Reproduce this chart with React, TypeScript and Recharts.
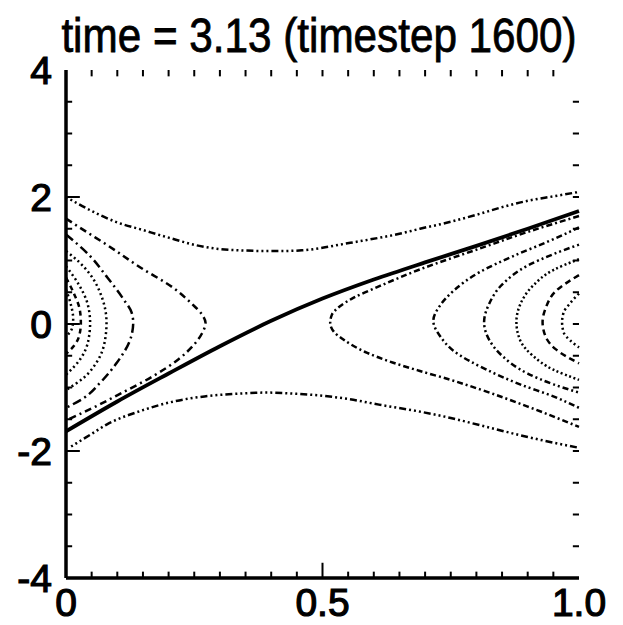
import React from "react";
import { LineChart, Line, XAxis, YAxis, ReferenceLine } from "recharts";

type P = { x: number; y: number };
const pts = (a: number[][]): P[] => a.map(([x, y]) => ({ x, y }));

const xTicks = [0, 0.5, 1];
const xTickLabels = ["0", "0.5", "1.0"];
const yTicks = [-4, -2, 0, 2, 4];
const yTickLabels = ["-4", "-2", "0", "2", "4"];
const xMinor = [0.05, 0.1, 0.15, 0.2, 0.25, 0.3, 0.35, 0.4, 0.45, 0.5, 0.55, 0.6, 0.65, 0.7, 0.75, 0.8, 0.85, 0.9, 0.95];
const yMinor = [-3.5, -3, -2.5, -2, -1.5, -1, -0.5, 0, 0.5, 1, 1.5, 2, 2.5, 3, 3.5];
const yMajorInner = [-2, 0, 2];
const title = "time = 3.13 (timestep 1600)";

// passing orbits
const topPassing = pts([[0,2.0],[0.05,1.78],[0.1,1.6],[0.15,1.48],[0.2,1.36],[0.26,1.23],[0.3,1.18],[0.34,1.16],[0.38,1.15],[0.42,1.15],[0.46,1.16],[0.5,1.2],[0.534,1.25],[0.57,1.3],[0.612,1.36],[0.65,1.42],[0.69,1.5],[0.74,1.59],[0.8,1.72],[0.85,1.84],[0.9,1.94],[0.95,2.01],[1.0,2.08]]);
const bottomPassing = pts([[0.01,-1.93],[0.05,-1.73],[0.08,-1.58],[0.145,-1.37],[0.21,-1.22],[0.27,-1.14],[0.33,-1.1],[0.39,-1.08],[0.45,-1.1],[0.5,-1.13],[0.55,-1.18],[0.61,-1.27],[0.69,-1.38],[0.75,-1.48],[0.81,-1.6],[0.9,-1.78],[1.0,-1.95]]);
const solidOrbit = pts([[0,-1.69],[0.1,-1.22],[0.2,-0.78],[0.3,-0.35],[0.4,0.05],[0.5,0.4],[0.6,0.7],[0.7,0.97],[0.8,1.23],[0.9,1.5],[1.0,1.78]]);

// trapped orbits, left side
const left1 = pts([[0,1.66],[0.04,1.45],[0.079,1.25],[0.145,0.89],[0.209,0.57],[0.245,0.32],[0.265,0.15],[0.272,0.02],[0.265,-0.15],[0.25,-0.32],[0.22,-0.55],[0.17,-0.82],[0.11,-1.08],[0.05,-1.33],[0,-1.52]]);
const left2 = pts([[0,1.41],[0.047,1.07],[0.079,0.75],[0.112,0.39],[0.128,0.18],[0.131,0.02],[0.125,-0.25],[0.099,-0.61],[0.066,-0.93],[0.034,-1.17],[0,-1.32]]);
const left3 = pts([[0,1.15],[0.025,0.98],[0.047,0.78],[0.07,0.42],[0.079,0.02],[0.075,-0.3],[0.06,-0.6],[0.034,-0.85],[0,-1.04]]);
const left4 = pts([[0,0.91],[0.025,0.62],[0.042,0.32],[0.047,0.02],[0.043,-0.28],[0.028,-0.55],[0,-0.8]]);
const left5 = pts([[0,0.73],[0.016,0.47],[0.027,0.22],[0.029,0.02],[0.026,-0.18],[0.016,-0.34],[0,-0.47]]);
const left6 = pts([[0,0.54],[0.009,0.32],[0.014,0.08],[0.012,-0.06],[0,-0.2]]);

// trapped orbits, right side
const right1 = pts([[1.0,1.7],[0.9,1.45],[0.807,1.19],[0.69,0.86],[0.612,0.6],[0.56,0.41],[0.534,0.28],[0.518,0.14],[0.515,0.02],[0.522,-0.12],[0.54,-0.24],[0.586,-0.45],[0.638,-0.61],[0.69,-0.74],[0.75,-0.88],[0.807,-1.03],[0.9,-1.3],[1.0,-1.62]]);
const right2 = pts([[1.0,1.52],[0.94,1.3],[0.872,1.07],[0.807,0.82],[0.755,0.52],[0.73,0.3],[0.716,0.05],[0.73,-0.2],[0.755,-0.42],[0.82,-0.72],[0.885,-0.95],[0.95,-1.14],[1.0,-1.32]]);
const right3 = pts([[1.0,1.25],[0.95,1.1],[0.9,0.92],[0.85,0.62],[0.825,0.32],[0.815,0.03],[0.825,-0.25],[0.85,-0.5],[0.9,-0.78],[0.95,-0.95],[1.0,-1.08]]);
const right4 = pts([[1.0,1.02],[0.95,0.85],[0.91,0.6],[0.885,0.3],[0.878,0.03],[0.885,-0.25],[0.91,-0.5],[0.95,-0.72],[1.0,-0.88]]);
const right5 = pts([[1.0,0.77],[0.955,0.52],[0.935,0.25],[0.929,0.03],[0.935,-0.2],[0.955,-0.4],[1.0,-0.62]]);
const right6 = pts([[1.0,0.48],[0.983,0.33],[0.97,0.18],[0.967,0.03],[0.97,-0.13],[0.983,-0.26],[1.0,-0.37]]);

const FONT = "'Liberation Sans', Arial, sans-serif";

const XTick = (props: any) => {
  const { x, y, payload } = props;
  const i = xTicks.indexOf(payload.value);
  return (
    <text x={x} y={y} dy={28} textAnchor="middle" fontSize={39} fontFamily={FONT} fill="#000" stroke="#000" strokeWidth={1.2}>
      {xTickLabels[i]}
    </text>
  );
};
const YTick = (props: any) => {
  const { x, y, payload } = props;
  const i = yTicks.indexOf(payload.value);
  return (
    <text x={x} y={y} dy={14} textAnchor="end" fontSize={39} fontFamily={FONT} fill="#000" stroke="#000" strokeWidth={1.2}>
      {yTickLabels[i]}
    </text>
  );
};

type S = { data: P[]; dash?: string; w?: number; type: any };
const series: S[] = [
  { data: topPassing, dash: "2 3 2 3 2 3 7 3", w: 2.5, type: "monotone" },
  { data: bottomPassing, dash: "2 3 2 3 2 3 7 3", w: 2.5, type: "monotone" },
  { data: solidOrbit, w: 3.8, type: "monotone" },
  { data: left1, dash: "7 4 2 4", w: 2.5, type: "monotoneY" },
  { data: left2, dash: "9 4 2 4", w: 2.5, type: "monotoneY" },
  { data: left3, dash: "2 3", w: 2.5, type: "monotoneY" },
  { data: left4, dash: "2 3", w: 2.5, type: "monotoneY" },
  { data: left5, dash: "5 4", w: 2.5, type: "monotoneY" },
  { data: left6, dash: "2 3", w: 2.5, type: "monotoneY" },
  { data: right1, dash: "6 3 2 3", w: 2.5, type: "monotoneY" },
  { data: right2, dash: "6 3 2 3 2 3", w: 2.5, type: "monotoneY" },
  { data: right3, dash: "2 3 2 3 6 3", w: 2.5, type: "monotoneY" },
  { data: right4, dash: "2 2.5", w: 2.5, type: "monotoneY" },
  { data: right5, dash: "6 4", w: 2.5, type: "monotoneY" },
  { data: right6, dash: "2 3", w: 2.5, type: "monotoneY" },
];

export default function App() {
  return (
    <div style={{ position: "relative", margin: "-8px 0 0 -8px", width: 623, height: 625, background: "#fff" }}>
      <div style={{ position: "absolute", left: 0, top: 0 }}>
        <LineChart width={623} height={625} margin={{ top: 70, right: 44, bottom: 0, left: 0 }}>
          <XAxis
            dataKey="x"
            type="number"
            domain={[0, 1]}
            ticks={xTicks}
            height={47}
            tickSize={0}
            tickMargin={10}
            tick={<XTick />}
            axisLine={{ stroke: "#000", strokeWidth: 3.5 }}
            tickLine={false}
            allowDuplicatedCategory={false}
          />
          <XAxis xAxisId="top" orientation="top" type="number" domain={[0, 1]} height={0} tick={false} tickLine={false} axisLine={{ stroke: "#000", strokeWidth: 3.5 }} />
          <YAxis
            type="number"
            domain={[-4, 4]}
            ticks={yTicks}
            width={66}
            tickSize={0}
            tickMargin={14}
            tick={<YTick />}
            axisLine={{ stroke: "#000", strokeWidth: 3.5 }}
            tickLine={false}
          />
          <YAxis yAxisId="right" orientation="right" type="number" domain={[-4, 4]} width={0} tick={false} tickLine={false} axisLine={{ stroke: "#000", strokeWidth: 3.5 }} />
          {xMinor.map((v) => (
            <ReferenceLine key={"t" + v} segment={[{ x: v, y: 4 }, { x: v, y: 3.9 }]} stroke="#000" strokeWidth={2} />
          ))}
          {xMinor.map((v) => (
            <ReferenceLine key={"b" + v} segment={[{ x: v, y: -4 }, { x: v, y: v === 0.5 ? -3.76 : -3.9 }]} stroke="#000" strokeWidth={2} />
          ))}
          {yMinor.map((v) => (
            <ReferenceLine key={"l" + v} segment={[{ x: 0, y: v }, { x: yMajorInner.includes(v) ? 0.027 : 0.012, y: v }]} stroke="#000" strokeWidth={2} />
          ))}
          {yMinor.map((v) => (
            <ReferenceLine key={"r" + v} segment={[{ x: 1, y: v }, { x: 0.988, y: v }]} stroke="#000" strokeWidth={2} />
          ))}
          {series.map((s, i) => (
            <Line
              key={i}
              data={s.data}
              dataKey="y"
              type={s.type}
              stroke="#000"
              strokeWidth={s.w}
              strokeDasharray={s.dash}
              dot={false}
              activeDot={false}
              isAnimationActive={false}
            />
          ))}
        </LineChart>
      </div>
      <svg width={623} height={68} style={{ position: "absolute", left: 0, top: 0, zIndex: 2 }}>
        <g transform="translate(319,52) scale(0.88,1)">
          <text x={0} y={0} textAnchor="middle" fontSize={48} fontFamily={FONT} fill="#000" stroke="#000" strokeWidth={0.8}>
            {title}
          </text>
        </g>
      </svg>
    </div>
  );
}
